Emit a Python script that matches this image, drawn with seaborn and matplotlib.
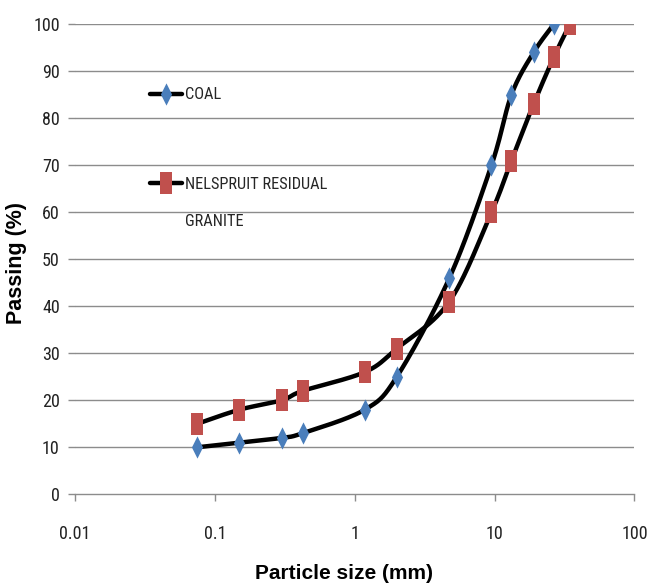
import numpy as np
import matplotlib
matplotlib.use("Agg")
import matplotlib.pyplot as plt
from matplotlib.lines import Line2D
import seaborn as sns

# ---- data ----
coal_size = [0.075, 0.15, 0.3, 0.425, 1.18, 2.0, 4.75, 9.5, 13.2, 19.0, 26.5]
coal_pass = [10, 11, 12, 13, 18, 25, 46, 70, 85, 94, 100]
granite_size = [0.075, 0.15, 0.3, 0.425, 1.18, 2.0, 4.75, 9.5, 13.2, 19.0, 26.5, 34.5]
granite_pass = [15, 18, 20, 22, 26, 31, 41, 60, 71, 83, 93, 100]
y_ticks = [0, 10, 20, 30, 40, 50, 60, 70, 80, 90, 100]
x_ticks = [0.01, 0.1, 1, 10, 100]
x_ticklabels = ["0.01", "0.1", "1", "10", "100"]
labels = ["COAL", "NELSPRUIT RESIDUAL", "GRANITE"]

sns.set_theme(style="white")
plt.rcParams["font.family"] = ["Roboto Condensed", "DejaVu Sans"]
plt.rcParams["font.stretch"] = "condensed"


def smooth(xs, ys, n=30):
    """Catmull-Rom smoothing in (log10 x, y) space, like Excel's smoothed line."""
    lx = np.log10(np.asarray(xs, float))
    yy = np.asarray(ys, float)
    P = np.column_stack([lx, yy])
    P = np.vstack([P[0], P, P[-1]])
    out = []
    t = np.linspace(0, 1, n)
    for i in range(1, len(P) - 2):
        p0, p1, p2, p3 = P[i - 1], P[i], P[i + 1], P[i + 2]
        c1 = p1 + (p2 - p0) / 6.0
        c2 = p2 - (p3 - p1) / 6.0
        seg = ((1 - t) ** 3)[:, None] * p1 + (3 * (1 - t) ** 2 * t)[:, None] * c1 \
            + (3 * (1 - t) * t ** 2)[:, None] * c2 + (t ** 3)[:, None] * p2
        out.append(seg if i == 1 else seg[1:])
    S = np.vstack(out)
    return 10 ** S[:, 0], S[:, 1]


fig = plt.figure(figsize=(6.48, 5.88), dpi=100)
ax = fig.add_axes([0.1157, 0.1594, 0.8634, 0.7993])

diamond = [(0, 1), (0.5, 0), (0, -1), (-0.5, 0), (0, 1)]
rect = [(-0.56, -1), (0.56, -1), (0.56, 1), (-0.56, 1), (-0.56, -1)]
blue = "#4A7EBB"
red = "#C0504D"
lw = 3.2

sx, sy = smooth(coal_size, coal_pass)
ax.plot(sx, sy, color="black", lw=lw, zorder=2, solid_capstyle="round")
sx, sy = smooth(granite_size, granite_pass)
ax.plot(sx, sy, color="black", lw=lw, zorder=2, solid_capstyle="round")

sns.scatterplot(x=coal_size, y=coal_pass, marker=diamond, s=16 ** 2,
                color=blue, edgecolor=blue, linewidth=0, ax=ax, zorder=3)
sns.scatterplot(x=granite_size, y=granite_pass, marker=rect, s=16.5 ** 2,
                color=red, edgecolor=red, linewidth=0, ax=ax, zorder=3)

ax.set_xscale("log")
ax.set_xlim(0.01, 100)
ax.set_ylim(0, 100)
ax.set_xticks(x_ticks)
ax.set_xticklabels(x_ticklabels)
ax.xaxis.set_minor_locator(matplotlib.ticker.NullLocator())
ax.set_yticks(y_ticks)
ax.set_yticklabels([str(v) for v in y_ticks])

grid_c = "#8C8C8C"
for v in y_ticks[1:]:
    ax.axhline(v, color=grid_c, lw=1.0, zorder=1)
for s in ["top", "right", "left"]:
    ax.spines[s].set_visible(False)
ax.spines["bottom"].set_color(grid_c)
ax.spines["bottom"].set_linewidth(1.0)
ax.tick_params(axis="both", which="major", direction="out", length=5, width=1,
               color=grid_c, labelsize=13, labelcolor="#222222", pad=6, left=True, bottom=True)
ax.tick_params(axis="x", pad=17)

ax.set_xlabel("Particle size (mm)", family=["Liberation Sans", "DejaVu Sans"],
              fontstretch="normal", fontweight="bold", fontsize=15, color="black")
ax.xaxis.set_label_coords(0.481, -0.148)
ax.set_ylabel("Passing (%)", family=["Liberation Sans", "DejaVu Sans"],
              fontstretch="normal", fontweight="bold", fontsize=15.5, color="black")
ax.yaxis.set_label_coords(-0.085, 0.493)

h_coal = Line2D([], [], color="black", lw=lw, marker=diamond, markersize=16,
                markerfacecolor=blue, markeredgewidth=0)
h_gran = Line2D([], [], color="black", lw=lw, marker=rect, markersize=16.5,
                markerfacecolor=red, markeredgewidth=0)
h_none = Line2D([], [], color="none", lw=0)

leg_fs = 11.8
leg1 = ax.legend([h_coal], [labels[0]], loc="center left", bbox_to_anchor=(0.134, 0.85),
                 frameon=False, borderpad=0, borderaxespad=0, handlelength=1.95,
                 handletextpad=0.2, fontsize=leg_fs)
ax.add_artist(leg1)
leg2 = ax.legend([h_gran, h_none], labels[1:], loc="center left", bbox_to_anchor=(0.134, 0.620),
                 frameon=False, borderpad=0, borderaxespad=0, handlelength=1.95,
                 handletextpad=0.2, fontsize=leg_fs, labelspacing=1.35)

fig.savefig("out.png", dpi=100)
